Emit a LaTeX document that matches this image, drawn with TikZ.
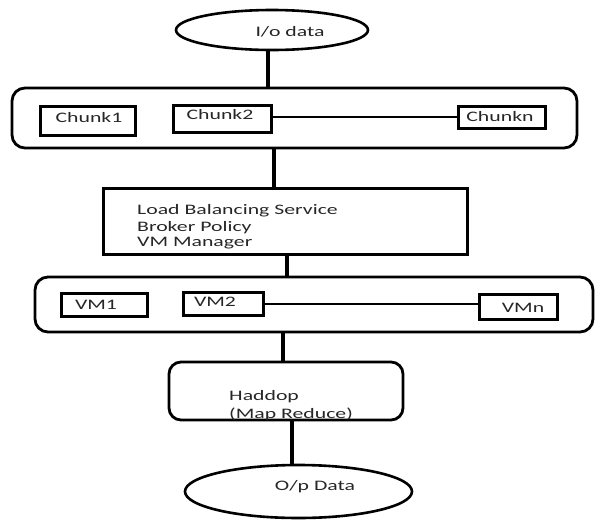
\documentclass[tikz,border=0pt]{standalone}
\usepackage{fontspec}
\setmainfont{Carlito}[FakeStretch=1.5]
\usetikzlibrary{shapes.geometric}
\begin{document}
\begin{tikzpicture}[x=1pt,y=-1pt,
  txt/.style={inner sep=0pt,font=\fontsize{14.5}{16.5}\selectfont,text=black!85},
  oval/.style={draw,ellipse,line width=2.6pt,inner sep=0pt},
  grp/.style={draw,rectangle,rounded corners=13pt,line width=2.8pt,inner sep=0pt},
  sbox/.style={draw,rectangle,line width=3pt,inner sep=0pt},
  bigbox/.style={draw,rectangle,line width=3pt,inner sep=0pt},
  conn/.style={line width=4pt},
  thin/.style={line width=2pt}]
\useasboundingbox (0,0) rectangle (595,520);
% shapes
\node[oval,minimum width=192pt,minimum height=40pt] (io) at (272,30) {};
\node[grp,minimum width=565pt,minimum height=60pt] (g1) at (294.5,118) {};
\node[sbox,minimum width=95pt,minimum height=29pt] (c1) at (87.5,120.5) {};
\node[sbox,minimum width=98pt,minimum height=27pt] (c2) at (222,118.5) {};
\node[sbox,minimum width=87pt,minimum height=22pt] (cn) at (501.5,117) {};
\node[bigbox,minimum width=364pt,minimum height=66pt] (lb) at (285,221) {};
\node[grp,minimum width=558pt,minimum height=55pt] (g2) at (314,304.5) {};
\node[sbox,minimum width=86pt,minimum height=23pt] (v1) at (104,304.5) {};
\node[sbox,minimum width=80pt,minimum height=23pt] (v2) at (223,303.5) {};
\node[sbox,minimum width=78pt,minimum height=25pt] (vn) at (518,306.5) {};
\node[grp,rounded corners=12pt,minimum width=234pt,minimum height=58pt] (hd) at (286,391) {};
\node[oval,minimum width=227pt,minimum height=53pt] (op) at (298.5,491.5) {};
% texts
\node[txt] (tio) at (290,32) {I/o data};
\node[txt] (tc1) at (89,118) {Chunk1};
\node[txt] (tc2) at (220,115) {Chunk2};
\node[txt] (tcn) at (500,117) {Chunkn};
\node[txt,anchor=west] (tlb1) at (137,211) {Load Balancing Service};
\node[txt,anchor=west] (tlb2) at (137,228) {Broker Policy};
\node[txt,anchor=west] (tlb3) at (137,243) {VM Manager};
\node[txt] (tv1) at (96,305) {VM1};
\node[txt] (tv2) at (215,302) {VM2};
\node[txt] (tvn) at (523,308) {VMn};
\node[txt,anchor=west] (th1) at (229,397) {Haddop};
\node[txt,anchor=west] (th2) at (229,414) {(Map Reduce)};
\node[txt] (top) at (315,487) {O/p Data};
% connectors
\draw[conn] ([xshift=-4pt]io.south) -- ([xshift=-4pt]io.south |- g1.north);
\draw[conn] ([xshift=-20.5pt]g1.south) -- ([xshift=-20.5pt]g1.south |- lb.north);
\draw[conn] ([xshift=2pt]lb.south) -- ([xshift=2pt]lb.south |- g2.north);
\draw[conn] ([xshift=-31pt]g2.south) -- ([xshift=-31pt]g2.south |- hd.north);
\draw[conn] ([xshift=6pt]hd.south) -- ([xshift=6pt]hd.south |- op.north);
\draw[thin] (c2.east |- cn.west) -- (cn.west);
\draw[thin] (v2.east) -- (v2.east -| vn.west);
\end{tikzpicture}
\end{document}
